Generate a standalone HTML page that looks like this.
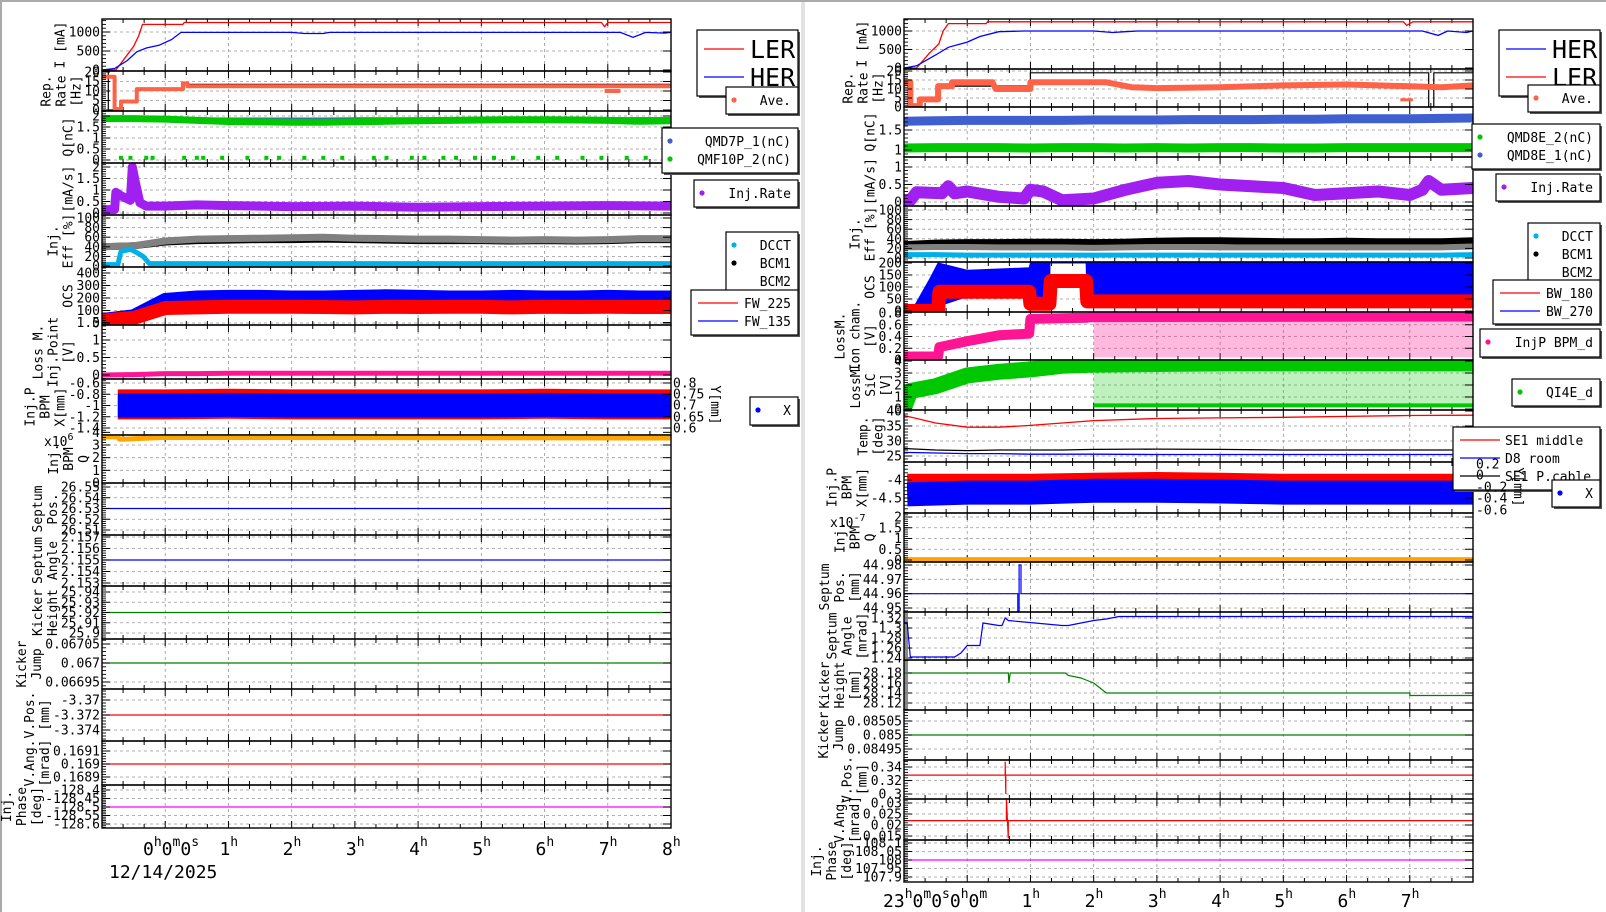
<!DOCTYPE html>
<html><head><meta charset="utf-8">
<style>
body{margin:0;background:#fff}
svg{display:block}
text{font-family:"DejaVu Sans Mono","Liberation Mono",monospace;fill:#000}
</style></head><body>
<svg id="c" xmlns="http://www.w3.org/2000/svg" width="1606" height="912"></svg>
<script>
// ---------- data ----------
const H=[-1,-0.5,0,0.5,1,1.5,2,2.5,3,3.5,4,4.5,5,5.5,6,6.5,7,7.5,8];
const edgeT=[-1,8];
const hourTicks=[0,1,2,3,4,5,6,7,8];
const hourLabelsL=['1','2','3','4','5','6','7','8'];
const hourLabelsR=['1','2','3','4','5','6','7'];
// left
const lerT=[-1,-0.78,-0.6,-0.5,-0.42,-0.36,0.28,0.3,6.9,6.95,7.0,8];
const lerV=[0,0,400,620,900,1200,1200,1250,1250,1140,1250,1250];
const herT=[-1,-0.8,-0.6,-0.45,-0.3,-0.1,0.1,0.25,2.0,2.2,2.5,2.6,7.2,7.4,7.6,7.9,8];
const herV=[0,40,250,480,580,650,800,990,990,960,960,990,990,860,990,970,990];
const lRepT=[-1,-0.8,-0.8,-0.7,-0.7,-0.45,-0.45,0.28,0.28,0.35,0.35,8];
const lRepV=[17.5,17.5,0.5,0.5,4.5,4.5,11,11,14,14,12.5,12.5];
const lRep2T=[6.95,7.2];
const lRep2V=[10,10];
const lRateT=[-0.9,-0.9,-0.72,-0.72,-0.45,-0.45,0.3,0.3,8];
const lRateV=[20,0,0,4.5,4.5,11,11,13.5,13.5];
const lQblue=[1.86,1.86,1.86,1.85,1.84,1.84,1.84,1.84,1.85,1.85,1.85,1.85,1.85,1.85,1.86,1.86,1.86,1.86,1.86];
const lQgreen=[1.88,1.88,1.86,1.8,1.75,1.73,1.72,1.72,1.74,1.76,1.78,1.8,1.82,1.83,1.83,1.82,1.8,1.76,1.78];
const lQdotsT=[-0.7,-0.55,-0.3,-0.2,0.3,0.5,0.6,0.9,1.3,1.6,1.8,2.2,2.5,2.8,3.3,3.5,3.9,4.1,4.4,4.6,4.9,5.2,5.5,5.9,6.2,6.6,6.9,7.3,7.6,7.9];
const lQdotsV=[0.1,0.1,0.1,0.1,0.1,0.1,0.1,0.1,0.1,0.1,0.1,0.1,0.1,0.1,0.1,0.1,0.1,0.1,0.1,0.1,0.1,0.1,0.1,0.1,0.1,0.1,0.1,0.1,0.1,0.1];
const lInjT=[-1,-0.8,-0.78,-0.7,-0.55,-0.52,-0.47,-0.4,-0.3,0,0.5,1,1.5,2,3,4,5,6,7,8];
const lInjV=[0.15,0.15,0.9,0.75,0.55,2.0,1.3,0.45,0.3,0.3,0.35,0.32,0.3,0.28,0.3,0.25,0.28,0.3,0.32,0.3];
const lEffGray=[40,42,52,56,57,58,59,60,58,57,56,56,55,54,55,54,55,57,57];
const lEffBlack=[40,42,50,53,54,55,55,56,55,54,53,53,53,52,53,52,53,55,55];
const lEffCyanT=[-1,-0.75,-0.7,-0.55,-0.45,-0.35,-0.25,0,8];
const lEffCyanV=[3,3,30,35,28,20,5,5,5];
const lOcsBlue=[20,50,180,200,205,205,200,200,205,210,205,200,200,205,200,200,205,200,200];
const lOcsRed=[20,40,120,125,130,130,130,128,125,130,128,130,130,125,130,128,130,128,128];
const lLoss=[0,0.01,0.04,0.04,0.05,0.05,0.05,0.05,0.05,0.05,0.05,0.05,0.05,0.05,0.05,0.05,0.05,0.05,0.05];
const lBpmT=[-0.75,0,1,2,3,4,5,6,7,8];
const lBpmRed=[-0.98,-0.98,-0.97,-0.98,-0.98,-0.98,-0.98,-0.97,-0.98,-0.98];
const lBpmBlue=[-1.0,-1.0,-0.99,-1.0,-1.0,-1.0,-1.0,-0.99,-1.0,-1.0];
const lQbpmT=[-1,-0.75,-0.72,0,8];
const lQbpmV=[3.65,3.65,3.45,3.6,3.55];
const lSeptPos=[26.53,26.53];
const lSeptAng=[2.155,2.155];
const lKickH=[25.92,25.92];
const lKickJ=[0.067,0.067];
const lVPos=[-3.372,-3.372];
const lVAng=[0.169,0.169];
const lPhase=[-128.5,-128.5];
// right
const rLerT=[-1,-0.8,-0.6,-0.45,-0.38,-0.3,0.3,0.32,6.9,6.95,7.05,8];
const rLerV=[0,0,400,650,1000,1200,1200,1250,1250,1150,1250,1250];
const rHerT=[-1,-0.8,-0.5,-0.3,0,0.2,0.5,0.9,2.0,2.3,2.5,2.7,7.2,7.45,7.6,7.9,8];
const rHerV=[0,60,350,560,700,850,980,1000,1000,960,980,1000,1000,880,1000,960,1000];
const rRepT=[-1,-0.9,-0.9,-0.75,-0.75,-0.46,-0.46,-0.24,-0.24,0.4,0.45,1.0,1.0,2.2,2.6,3,4,5,6,6.5,7,7.5,8];
const rRepV=[13.7,13.7,0.5,0.5,4.2,4.2,11.6,11.6,13.7,13.7,10,10,13.7,13.7,11,10.5,11,12,12.5,12,11.5,11,12];
const rRep2T=[6.85,7.05];
const rRep2V=[4,4];
const rRateT=[-0.9,-0.9,-0.75,-0.75,-0.46,-0.46,1.0,1.0,7.3,7.3,7.38,7.38,8];
const rRateV=[14,0,0,4.2,4.2,11.6,11.6,19,19,0,0,19,19];
const rQblue=[1.72,1.73,1.74,1.74,1.74,1.74,1.75,1.75,1.75,1.76,1.76,1.76,1.77,1.77,1.78,1.78,1.78,1.79,1.8];
const rQgreen=[1.05,1.06,1.06,1.06,1.05,1.06,1.06,1.05,1.06,1.05,1.06,1.06,1.05,1.05,1.06,1.06,1.06,1.06,1.06];
const rInjT=[-1,-0.9,-0.8,-0.4,-0.3,-0.2,0,0.5,0.9,1.0,1.2,1.5,2.0,2.5,3,3.5,4,4.5,5,5.5,6,6.5,7,7.2,7.3,7.5,8];
const rInjV=[0.05,0.05,0.28,0.25,0.45,0.25,0.3,0.15,0.1,0.35,0.3,0.05,0.1,0.35,0.55,0.6,0.5,0.45,0.4,0.2,0.25,0.3,0.2,0.35,0.6,0.35,0.4];
const rEffBlack=[28,31,32,32,33,33,32,33,35,36,36,35,34,34,35,34,34,34,36];
const rEffGray=[22,23,23,22,22,22,21,22,23,23,22,22,22,22,22,22,22,22,24];
const rEffCyan=[7,7,6,6,6,6,6,6,6,6,6,6,6,6,6,6,6,6,7];
const rOcsT=[-1,-0.88,-0.6,-0.46,0,0.5,0.98,1.0,1.3,1.31,1.88,1.9,8];
const rOcsLow=[0,0,10,20,60,60,60,20,20,200,200,30,30];
const rOcsHigh=[0,0,130,200,170,175,180,200,200,200,200,200,200];
const rOcsRedT=[-1,-0.46,-0.44,0.98,1.0,1.3,1.32,1.88,1.9,8];
const rOcsRedV=[0,0,80,80,30,30,125,125,40,40];
const rIonT=[-1,-0.46,-0.44,0,0.5,0.98,1.0,1.9,2.0,8];
const rIonV=[0.06,0.06,0.22,0.32,0.42,0.45,0.7,0.72,0.73,0.74];
const rIonScT=[2.0,8];
const rIonScV=[0.35,0.35];
const rSicT=[-1,-0.9,-0.5,0,0.5,1,1.5,2,3,4,5,6,7,8];
const rSicV=[0.1,1.5,1.9,2.8,3.1,3.3,3.6,3.7,3.75,3.8,3.8,3.8,3.8,3.8];
const rSicScT=[2.0,8];
const rSicScV=[1.8,1.8];
const rSicLowV=[0.3,0.3];
const tempT=[-1,-0.5,0,0.5,1,1.5,2,3,4,5,6,7,8];
const tempRed=[38.5,36,34.6,34.6,35.2,36,36.8,37.5,37.7,37.9,38.2,38.5,38.6];
const tempBlack=[27.5,27,26.8,27,27,27,27.2,27.3,27.2,27,27,27,27];
const tempBlue=[26.2,26,25.8,25.8,25.6,25.6,25.6,25.5,25.5,25.5,25.5,25.5,25.5];
const rBpmT=[-0.95,0,1,2,3,4,5,6,7,8];
const rBpmRed=[-4.05,-4.05,-4.05,-4.02,-4.0,-4.02,-4.05,-4.05,-4.05,-4.05];
const rBpmBlue=[-4.4,-4.35,-4.35,-4.3,-4.3,-4.32,-4.35,-4.35,-4.35,-4.35];
const rQbpm=[0.02,0.02];
const rSeptPosT=[-1,0.8,0.8,0.82,0.82,0.85,0.85,8];
const rSeptPosV=[44.96,44.96,44.948,44.948,44.98,44.98,44.96,44.96];
const rSeptAngT=[-1,-0.95,-0.9,-0.2,-0.1,0,0.2,0.25,0.5,0.55,0.6,0.65,1.5,1.6,1.8,2.0,2.2,2.4,8];
const rSeptAngV=[1.31,1.31,1.242,1.242,1.25,1.265,1.265,1.31,1.305,1.305,1.32,1.315,1.305,1.305,1.31,1.315,1.318,1.323,1.323];
const rKickHT=[-1,0.65,0.66,0.68,1.55,1.6,1.8,1.9,2.0,2.1,2.2,7.0,7.0,8];
const rKickHV=[28.18,28.18,28.16,28.18,28.18,28.175,28.17,28.165,28.16,28.15,28.14,28.14,28.135,28.135];
const rKickJ=[0.085,0.085];
const rVPosT=[-1,0.6,0.6,0.61,0.61,8];
const rVPosV=[0.328,0.328,0.348,0.3,0.328,0.328];
const rVAngT=[-1,0.62,0.62,0.65,0.65,8];
const rVAngV=[0.022,0.022,0.032,0.014,0.022,0.022];
const rPhase=[108,108];

// ---------- colors ----------
const RED='#ff0000',BLUE='#0000ff',TOM='#ff6347',GRN='#00c800',RBL='#3f5fd0',PUR='#a020f0',GRY='#808080',CYN='#00b0e8',PNK='#ff1493',ORG='#ffa500',MAG='#ff00ff',DGR='#008000';

const LP=[
{n:'beam-current',top:19,bot:71,ya:32,va:1000,yb:70,vb:0,tk:[0,500,1000],ti:['I [mA]'],s:[{k:'line',t:lerT,v:lerV,c:RED,w:1.3,n:'ler'},{k:'line',t:herT,v:herV,c:BLUE,w:1.3,n:'her'}]},
{n:'rep-rate',top:71,bot:111,ya:72,va:20,yb:110,vb:0,tk:[0,5,10,15,20],ti:['Rep.','Rate','[Hz]'],s:[{k:'line',t:lRateT,v:lRateV,c:'#000',w:1.2,n:'rate'},{k:'band',t:lRepT,v:lRepV,c:TOM,w:4,n:'ave'},{k:'band',t:lRep2T,v:lRep2V,c:TOM,w:4,n:'ave-dip'}]},
{n:'charge',top:111,bot:163,ya:116,va:2,yb:160,vb:0,tk:[0,0.5,1,1.5,2],ti:['Q[nC]'],s:[{k:'band',t:H,v:lQblue,c:RBL,w:4,n:'qmd7p'},{k:'band',t:H,v:lQgreen,c:GRN,w:7,n:'qmf10p'},{k:'dots',t:lQdotsT,v:lQdotsV,c:GRN,n:'qmf10p-low'}]},
{n:'inj-rate',top:163,bot:215,ya:167,va:2,yb:213,vb:0,tk:[0,0.5,1,1.5,2],ti:['[mA/s]'],s:[{k:'band',t:lInjT,v:lInjV,c:PUR,w:9,n:'inj-rate'}]},
{n:'inj-eff',top:215,bot:267,ya:218,va:100,yb:266,vb:0,tk:[0,20,40,60,80,100],ti:['Inj.','Eff [%]'],s:[{k:'band',t:H,v:lEffBlack,c:'#000',w:7,n:'bcm1'},{k:'band',t:H,v:lEffGray,c:GRY,w:7,n:'bcm2'},{k:'band',t:lEffCyanT,v:lEffCyanV,c:CYN,w:5,n:'dcct'}]},
{n:'ocs',top:267,bot:325,ya:273,va:400,yb:323,vb:0,tk:[0,100,200,300,400],ti:['OCS'],s:[{k:'band',t:H,v:lOcsBlue,c:BLUE,w:15,n:'fw135'},{k:'band',t:H,v:lOcsRed,c:RED,w:14,n:'fw225'}]},
{n:'loss-inj-point',top:325,bot:379,ya:340,va:1,yb:375,vb:0,tk:[0,0.5,1,1.5],ti:['Loss M.','Inj.Point','[V]'],s:[{k:'band',t:H,v:lLoss,c:PNK,w:5,n:'loss'}]},
{n:'bpm-x',top:379,bot:435,ya:383,va:-0.6,yb:428,vb:-1.4,tk:[-1.4,-1.2,-1,-0.8,-0.6],ti:['Inj.P','BPM','X[mm]'],s:[{k:'band',t:lBpmT,v:lBpmRed,c:RED,w:30,n:'y'},{k:'band',t:lBpmT,v:lBpmBlue,c:BLUE,w:24,n:'x'}]},
{n:'bpm-q',top:435,bot:483,ya:445,va:3,yb:483,vb:0,tk:[0,1,2,3,4],ti:['Inj.','BPM','Q'],s:[{k:'band',t:lQbpmT,v:lQbpmV,c:ORG,w:5,n:'q'}]},
{n:'septum-pos',top:483,bot:535,ya:487,va:26.55,yb:530,vb:26.51,tk:[26.51,26.52,26.53,26.54,26.55,26.56],ti:['Septum','Pos.'],s:[{k:'line',t:edgeT,v:lSeptPos,c:BLUE,w:1.2,n:'pos'}]},
{n:'septum-angle',top:535,bot:586,ya:537,va:2.157,yb:583,vb:2.153,tk:[2.153,2.154,2.155,2.156,2.157],ti:['Septum','Angle'],s:[{k:'line',t:edgeT,v:lSeptAng,c:BLUE,w:1.2,n:'angle'}]},
{n:'kicker-height',top:586,bot:639,ya:592,va:25.94,yb:633,vb:25.9,tk:[25.9,25.91,25.92,25.93,25.94],ti:['Kicker','Height'],s:[{k:'line',t:edgeT,v:lKickH,c:DGR,w:1.2,n:'height'}]},
{n:'kicker-jump',top:639,bot:689,ya:644,va:0.06705,yb:682,vb:0.06695,tk:[0.06695,0.067,0.06705],ti:['Kicker','Jump'],s:[{k:'line',t:edgeT,v:lKickJ,c:DGR,w:1.2,n:'jump'}]},
{n:'v-pos',top:689,bot:741,ya:700,va:-3.37,yb:730,vb:-3.374,tk:[-3.374,-3.372,-3.37],ti:['V.Pos.','[mm]'],s:[{k:'line',t:edgeT,v:lVPos,c:RED,w:1.2,n:'vpos'}]},
{n:'v-ang',top:741,bot:785,ya:751,va:0.1691,yb:777,vb:0.1689,tk:[0.1689,0.169,0.1691],ti:['V.Ang.','[mrad]'],s:[{k:'line',t:edgeT,v:lVAng,c:RED,w:1.2,n:'vang'}]},
{n:'inj-phase',top:785,bot:828,ya:790,va:-128.4,yb:824,vb:-128.6,tk:[-128.6,-128.55,-128.5,-128.45,-128.4],ti:['Inj.','Phase','[deg]'],s:[{k:'line',t:edgeT,v:lPhase,c:MAG,w:1.2,n:'phase'}]}
];
const RP=[
{n:'beam-current',top:19,bot:69,ya:31,va:1000,yb:68,vb:0,tk:[0,500,1000],ti:['I [mA]'],s:[{k:'line',t:rLerT,v:rLerV,c:RED,w:1.3,n:'ler'},{k:'line',t:rHerT,v:rHerV,c:BLUE,w:1.3,n:'her'}]},
{n:'rep-rate',top:69,bot:107,ya:71,va:20,yb:107,vb:0,tk:[0,5,10,15,20],ti:['Rep.','Rate','[Hz]'],s:[{k:'line',t:rRateT,v:rRateV,c:'#000',w:1.2,n:'rate'},{k:'band',t:rRepT,v:rRepV,c:TOM,w:6,n:'ave'},{k:'band',t:rRep2T,v:rRep2V,c:TOM,w:3,n:'ave-dip'}]},
{n:'charge',top:107,bot:157,ya:130,va:1.5,yb:150,vb:1,tk:[1,1.5],ti:['Q[nC]'],s:[{k:'band',t:H,v:rQblue,c:RBL,w:9,n:'qmd8e-1'},{k:'band',t:H,v:rQgreen,c:GRN,w:9,n:'qmd8e-2'}]},
{n:'inj-rate',top:157,bot:206,ya:167,va:1,yb:202,vb:0,tk:[0,0.5,1],ti:['[mA/s]'],s:[{k:'band',t:rInjT,v:rInjV,c:PUR,w:12,n:'inj-rate'}]},
{n:'inj-eff',top:206,bot:262,ya:210,va:100,yb:258,vb:0,tk:[0,20,40,60,80,100],ti:['Inj.','Eff [%]'],s:[{k:'band',t:H,v:rEffBlack,c:'#000',w:7,n:'bcm1'},{k:'band',t:H,v:rEffGray,c:GRY,w:6,n:'bcm2'},{k:'band',t:H,v:rEffCyan,c:CYN,w:5,n:'dcct'}]},
{n:'ocs',top:262,bot:312,ya:263,va:200,yb:311,vb:0,tk:[0,50,100,150,200],ti:['OCS'],s:[{k:'area',t:rOcsT,v:rOcsLow,v2:rOcsHigh,c:BLUE,n:'bw270'},{k:'band',t:rOcsRedT,v:rOcsRedV,c:RED,w:14,n:'bw180'}]},
{n:'loss-ion-chamber',top:312,bot:360,ya:313,va:0.8,yb:360,vb:0,tk:[0,0.2,0.4,0.6,0.8],ti:['LossM.','Ion cham.','[V]'],s:[{k:'band',t:rIonScT,v:rIonScV,c:PNK,w:36,o:0.3,n:'scatter'},{k:'band',t:rIonT,v:rIonV,c:PNK,w:10,n:'injp-bpm-d'}]},
{n:'loss-sic',top:360,bot:410,ya:361,va:4,yb:409,vb:0,tk:[0,1,2,3,4],ti:['LossM.','SiC','[V]'],s:[{k:'band',t:rSicScT,v:rSicScV,c:GRN,w:40,o:0.25,n:'scatter'},{k:'band',t:rSicScT,v:rSicLowV,c:GRN,w:4,n:'low'},{k:'band',t:rSicT,v:rSicV,c:GRN,w:16,n:'qi4e-d'}]},
{n:'temperature',top:410,bot:462,ya:411,va:40,yb:456,vb:25,tk:[25,30,35,40],ti:['Temp.','[deg]'],s:[{k:'line',t:tempT,v:tempRed,c:RED,w:1.3,n:'se1-middle'},{k:'line',t:tempT,v:tempBlack,c:'#000',w:1.3,n:'se1-pcable'},{k:'line',t:tempT,v:tempBlue,c:BLUE,w:1.3,n:'d8-room'}]},
{n:'bpm-x',top:462,bot:513,ya:480,va:-4,yb:498,vb:-4.5,tk:[-4.5,-4],ti:['Inj.P','BPM','X[mm]'],s:[{k:'band',t:rBpmT,v:rBpmRed,c:RED,w:16,n:'y'},{k:'band',t:rBpmT,v:rBpmBlue,c:BLUE,w:24,n:'x'}]},
{n:'bpm-q',top:513,bot:562,ya:517,va:2,yb:560,vb:0,tk:[0,0.5,1,1.5,2],ti:['Inj.','BPM','Q'],s:[{k:'band',t:edgeT,v:rQbpm,c:ORG,w:5,n:'q'}]},
{n:'septum-pos',top:562,bot:612,ya:565,va:44.98,yb:608,vb:44.95,tk:[44.95,44.96,44.97,44.98],ti:['Septum','Pos.','[mm]'],s:[{k:'line',t:rSeptPosT,v:rSeptPosV,c:BLUE,w:1.2,n:'pos'}]},
{n:'septum-angle',top:612,bot:660,ya:618,va:1.32,yb:658,vb:1.24,tk:[1.24,1.26,1.28,1.3,1.32],ti:['Septum','Angle','[mrad]'],s:[{k:'line',t:rSeptAngT,v:rSeptAngV,c:BLUE,w:1.2,n:'angle'}]},
{n:'kicker-height',top:660,bot:710,ya:673,va:28.18,yb:703,vb:28.12,tk:[28.12,28.14,28.16,28.18],ti:['Kicker','Height','[mm]'],s:[{k:'line',t:rKickHT,v:rKickHV,c:DGR,w:1.2,n:'height'}]},
{n:'kicker-jump',top:710,bot:760,ya:721,va:0.08505,yb:749,vb:0.08495,tk:[0.08495,0.085,0.08505],ti:['Kicker','Jump'],s:[{k:'line',t:edgeT,v:rKickJ,c:DGR,w:1.2,n:'jump'}]},
{n:'v-pos',top:760,bot:799,ya:767,va:0.34,yb:794,vb:0.3,tk:[0.3,0.32,0.34],ti:['V.Pos.','[mm]'],s:[{k:'line',t:rVPosT,v:rVPosV,c:RED,w:1.2,n:'vpos'}]},
{n:'v-ang',top:799,bot:840,ya:803,va:0.03,yb:836,vb:0.015,tk:[0.015,0.02,0.025,0.03],ti:['V.Ang.','[mrad]'],s:[{k:'line',t:rVAngT,v:rVAngV,c:RED,w:1.2,n:'vang'}]},
{n:'inj-phase',top:840,bot:882,ya:843,va:108.1,yb:877,vb:107.9,tk:[107.9,107.95,108,108.05,108.1],ti:['Inj.','Phase','[deg]'],s:[{k:'line',t:edgeT,v:rPhase,c:MAG,w:1.2,n:'phase'}]}
];

// ---------- drawing ----------
const NS='http://www.w3.org/2000/svg';
const svg=document.getElementById('c');
function mk(tag,attrs,parent){const e=document.createElementNS(NS,tag);for(const k in attrs)e.setAttribute(k,attrs[k]);(parent||svg).appendChild(e);return e;}
function fmt(v){return String(Number(v.toFixed(6)));}
let clipId=0;

function drawPanel(p,x0,x1,side){
  const g=mk('g',{});
  
  
  const Y=v=>p.ya+(v-p.va)*(p.yb-p.ya)/(p.vb-p.va);
  const X=t=>x0+(t+1)/9*(x1-x0);
  for(let h=0;h<8;h++){mk('line',{x1:X(h),x2:X(h),y1:p.top,y2:p.bot,stroke:'#999','stroke-width':0.8,'stroke-dasharray':'3,3'},g);}
  p.tk.forEach(v=>{const y=Y(v);if(y>p.top+1&&y<p.bot-1)mk('line',{x1:x0,x2:x1,y1:y,y2:y,stroke:'#999','stroke-width':0.8,'stroke-dasharray':'3,3'},g);});
  for(let m=-3;m<=24;m++){const x=X(m/3);const L=(m%3===0)?7:4;
    mk('line',{x1:x,x2:x,y1:p.bot,y2:p.bot-L,stroke:'#000','stroke-width':1},g);
    mk('line',{x1:x,x2:x,y1:p.top,y2:p.top+L,stroke:'#000','stroke-width':1},g);}
  const cid='cl'+(clipId++);
  const cp=mk('clipPath',{id:cid},g);
  mk('rect',{x:x0,y:p.top,width:x1-x0,height:p.bot-p.top},cp);
  const sg=mk('g',{'clip-path':'url(#'+cid+')'},g);
  p.s.forEach(s=>{
    let e;
    if(s.k==='line'||s.k==='band'){
      const pts=s.t.map((t,i)=>X(t).toFixed(1)+','+Y(s.v[i]).toFixed(1)).join(' ');
      e=mk('polyline',{points:pts,fill:'none',stroke:s.c,'stroke-width':s.w,'stroke-linejoin':s.k==='band'?'round':'miter',opacity:s.o||1},sg);
    }else if(s.k==='area'){
      const a=s.t.map((t,i)=>X(t).toFixed(1)+','+Y(s.v[i]).toFixed(1));
      const b=s.t.map((t,i)=>X(t).toFixed(1)+','+Y(s.v2[i]).toFixed(1)).reverse();
      e=mk('polygon',{points:a.concat(b).join(' '),fill:s.c,stroke:s.c,'stroke-width':1},sg);
    }else if(s.k==='dots'){
      e=mk('g',{fill:s.c},sg);
      s.t.forEach((t,i)=>{mk('rect',{x:X(t)-2,y:Y(s.v[i])-2,width:4,height:4},e);});
    }
    
    
  });
  const step=p.tk[1]-p.tk[0];const minor=step/5;
  for(let k=-10;k<=5*(p.tk.length+2);k++){const v=p.tk[0]+k*minor-step;const y=Y(v);
    if(y>=p.top&&y<=p.bot)mk('line',{x1:x0,x2:x0+4,y1:y,y2:y,stroke:'#000','stroke-width':0.9},g);}
  let maxW=0;
  p.tk.forEach(v=>{const y=Y(v);if(y<p.top-6||y>p.bot+6)return;
    mk('line',{x1:x0,x2:x0+8,y1:y,y2:y,stroke:'#000','stroke-width':1},g);
    mk('line',{x1:x1,x2:x1-8,y1:y,y2:y,stroke:'#000','stroke-width':1},g);
    const s=fmt(v);maxW=Math.max(maxW,s.length*7.83);
    const t=mk('text',{x:x0-2,y:y+4.5,'font-size':13,'text-anchor':'end'},g);t.textContent=s;
    
    
  });
  mk('rect',{x:x0,y:p.top,width:x1-x0,height:p.bot-p.top,fill:'none',stroke:'#000','stroke-width':1.4},g);
  const n=p.ti.length,cy=(p.top+p.bot)/2;
  p.ti.forEach((s,i)=>{const cx=x0-maxW-6-(n-1-i)*15;
    const t=mk('text',{x:cx,y:cy,'font-size':13,'text-anchor':'middle',transform:'rotate(-90 '+cx+' '+cy+')'},g);t.textContent=s;
    
    
  });
}

function legend(x,y,w,h,items,name,big){
  const g=mk('g',{});
  
  
  mk('rect',{x:x+2,y:y+2,width:w,height:h,fill:'#555'},g);
  mk('rect',{x:x,y:y,width:w,height:h,fill:'#fff',stroke:'#000','stroke-width':1.2},g);
  const sp=big?28:18;
  items.forEach((it,i)=>{const cy=y+(big?19:13)+i*sp;
    if(it.k==='line')mk('line',{x1:x+7,x2:x+47,y1:cy,y2:cy,stroke:it.c,'stroke-width':1.2},g);
    if(it.k==='dot')mk('circle',{cx:x+8,cy:cy,r:2.6,fill:it.c},g);
    const t=mk('text',big?{x:x+53,y:cy+9,'font-size':25}:(it.left?{x:x+it.left,y:cy+5,'font-size':13}:{x:x+w-7,y:cy+5,'font-size':13,'text-anchor':'end'}),g);
    t.textContent=it.txt;
    
    
  });
}

function xLabels(x0,x1,by,first,labels,side){
  const X=t=>x0+(t+1)/9*(x1-x0);
  const g=mk('g',{});
  
  
  function lab(x,parts){const t=mk('text',{x:x,y:by,'font-size':18},g);
    let raised=false;
    parts.forEach(pp=>{
      const a={};
      if(pp[1]){a['font-size']=13;a.dy=raised?0:-9;raised=true;}
      else{a.dy=raised?9:0;raised=false;}
      const ts=mk('tspan',a,t);ts.textContent=pp[0];});
    return t;}
  lab(first.x,first.parts);
  labels.forEach((s,i)=>{lab(X(hourTicks[i+1])-9,[[s,0],['h',1]]);});
}

const bg=mk('rect',{x:0,y:0,width:1606,height:912,fill:'#fff'});


mk('line',{x1:0,x2:1606,y1:1,y2:1,stroke:'#aaa','stroke-width':2});
mk('line',{x1:1,x2:1,y1:0,y2:912,stroke:'#aaa','stroke-width':2});
const sep=mk('rect',{x:801,y:2,width:4,height:910,fill:'#e2e2e2'});



LP.forEach(p=>drawPanel(p,102,671,'left'));
RP.forEach(p=>drawPanel(p,904,1473,'right'));

function yAxis2(x,vals,ys,tx,cy,name){
  const g=mk('g',{});
  
  
  vals.forEach((s,i)=>{const t=mk('text',{x:x,y:ys[i]+4.5,'font-size':13},g);t.textContent=s;});
  const t=mk('text',{x:tx,y:cy,'font-size':13,'text-anchor':'middle',transform:'rotate(90 '+tx+' '+cy+')'},g);t.textContent='Y[mm]';
}
yAxis2(673,['0.8','0.75','0.7','0.65','0.6'],[383,394,405,417,428],711,405,'left-bpm-y-axis');

function expo(x,y,e,name){const t=mk('text',{x:x,y:y,'font-size':13});
  
  
  const a=mk('tspan',{},t);a.textContent='x10';const b=mk('tspan',{dy:-6,'font-size':10},t);b.textContent=e;}
expo(44,446,'6','left-q-exponent');
expo(830,527,'-7','right-q-exponent');

xLabels(102,671,855,{x:143,parts:[['0',0],['h',1],['0',0],['m',1],['0',0],['s',1]]},hourLabelsL,'left');
const dt=mk('text',{x:109,y:878,'font-size':18});dt.textContent='12/14/2025';


xLabels(904,1473,907,{x:883,parts:[['23',0],['h',1],['0',0],['m',1],['0',0],['s',1],['0',0],['h',1],['0',0],['m',1]]},hourLabelsR,'right');

legend(697,30,101,66,[{txt:'LER',c:RED,k:'line'},{txt:'HER',c:BLUE,k:'line'}],'left-current-legend',true);
legend(726,87,72,27,[{txt:'Ave.',c:TOM,k:'dot'}],'left-rep-legend');
legend(662,128,136,45,[{txt:'QMD7P_1(nC)',c:RBL,k:'dot'},{txt:'QMF10P_2(nC)',c:GRN,k:'dot'}],'left-charge-legend');
legend(694,180,104,27,[{txt:'Inj.Rate',c:PUR,k:'dot'}],'left-injrate-legend');
legend(726,232,72,63,[{txt:'DCCT',c:CYN,k:'dot'},{txt:'BCM1',c:'#000',k:'dot'},{txt:'BCM2',c:GRY,k:'none'}],'left-eff-legend');
legend(691,290,107,45,[{txt:'FW_225',c:RED,k:'line'},{txt:'FW_135',c:BLUE,k:'line'}],'left-ocs-legend');
legend(750,397,48,28,[{txt:'X',c:BLUE,k:'dot'}],'left-bpm-legend');
legend(1499,30,101,66,[{txt:'HER',c:BLUE,k:'line'},{txt:'LER',c:RED,k:'line'}],'right-current-legend',true);
legend(1528,85,72,27,[{txt:'Ave.',c:TOM,k:'dot'}],'right-rep-legend');
legend(1472,124,128,45,[{txt:'QMD8E_2(nC)',c:GRN,k:'dot'},{txt:'QMD8E_1(nC)',c:RBL,k:'dot'}],'right-charge-legend');
legend(1496,174,104,27,[{txt:'Inj.Rate',c:PUR,k:'dot'}],'right-injrate-legend');
legend(1528,223,72,63,[{txt:'DCCT',c:CYN,k:'dot'},{txt:'BCM1',c:'#000',k:'dot'},{txt:'BCM2',c:GRY,k:'none'}],'right-eff-legend');
legend(1493,280,107,44,[{txt:'BW_180',c:RED,k:'line'},{txt:'BW_270',c:BLUE,k:'line'}],'right-ocs-legend');
legend(1480,329,120,28,[{txt:'InjP BPM_d',c:PNK,k:'dot'}],'right-ion-legend');
legend(1512,379,88,27,[{txt:'QI4E_d',c:GRN,k:'dot'}],'right-sic-legend');
legend(1453,427,147,63,[{txt:'SE1 middle',c:RED,k:'line',left:52},{txt:'D8 room',c:BLUE,k:'line',left:52},{txt:'SE1 P.cable',c:'#000',k:'line',left:52}],'right-temp-legend');
yAxis2(1476,['0.2','0','-0.2','-0.4','-0.6'],[464,475,487,498,510],1514,487,'right-bpm-y-axis');
legend(1552,480,48,27,[{txt:'X',c:BLUE,k:'dot'}],'right-bpm-legend');
</script>
</body></html>
